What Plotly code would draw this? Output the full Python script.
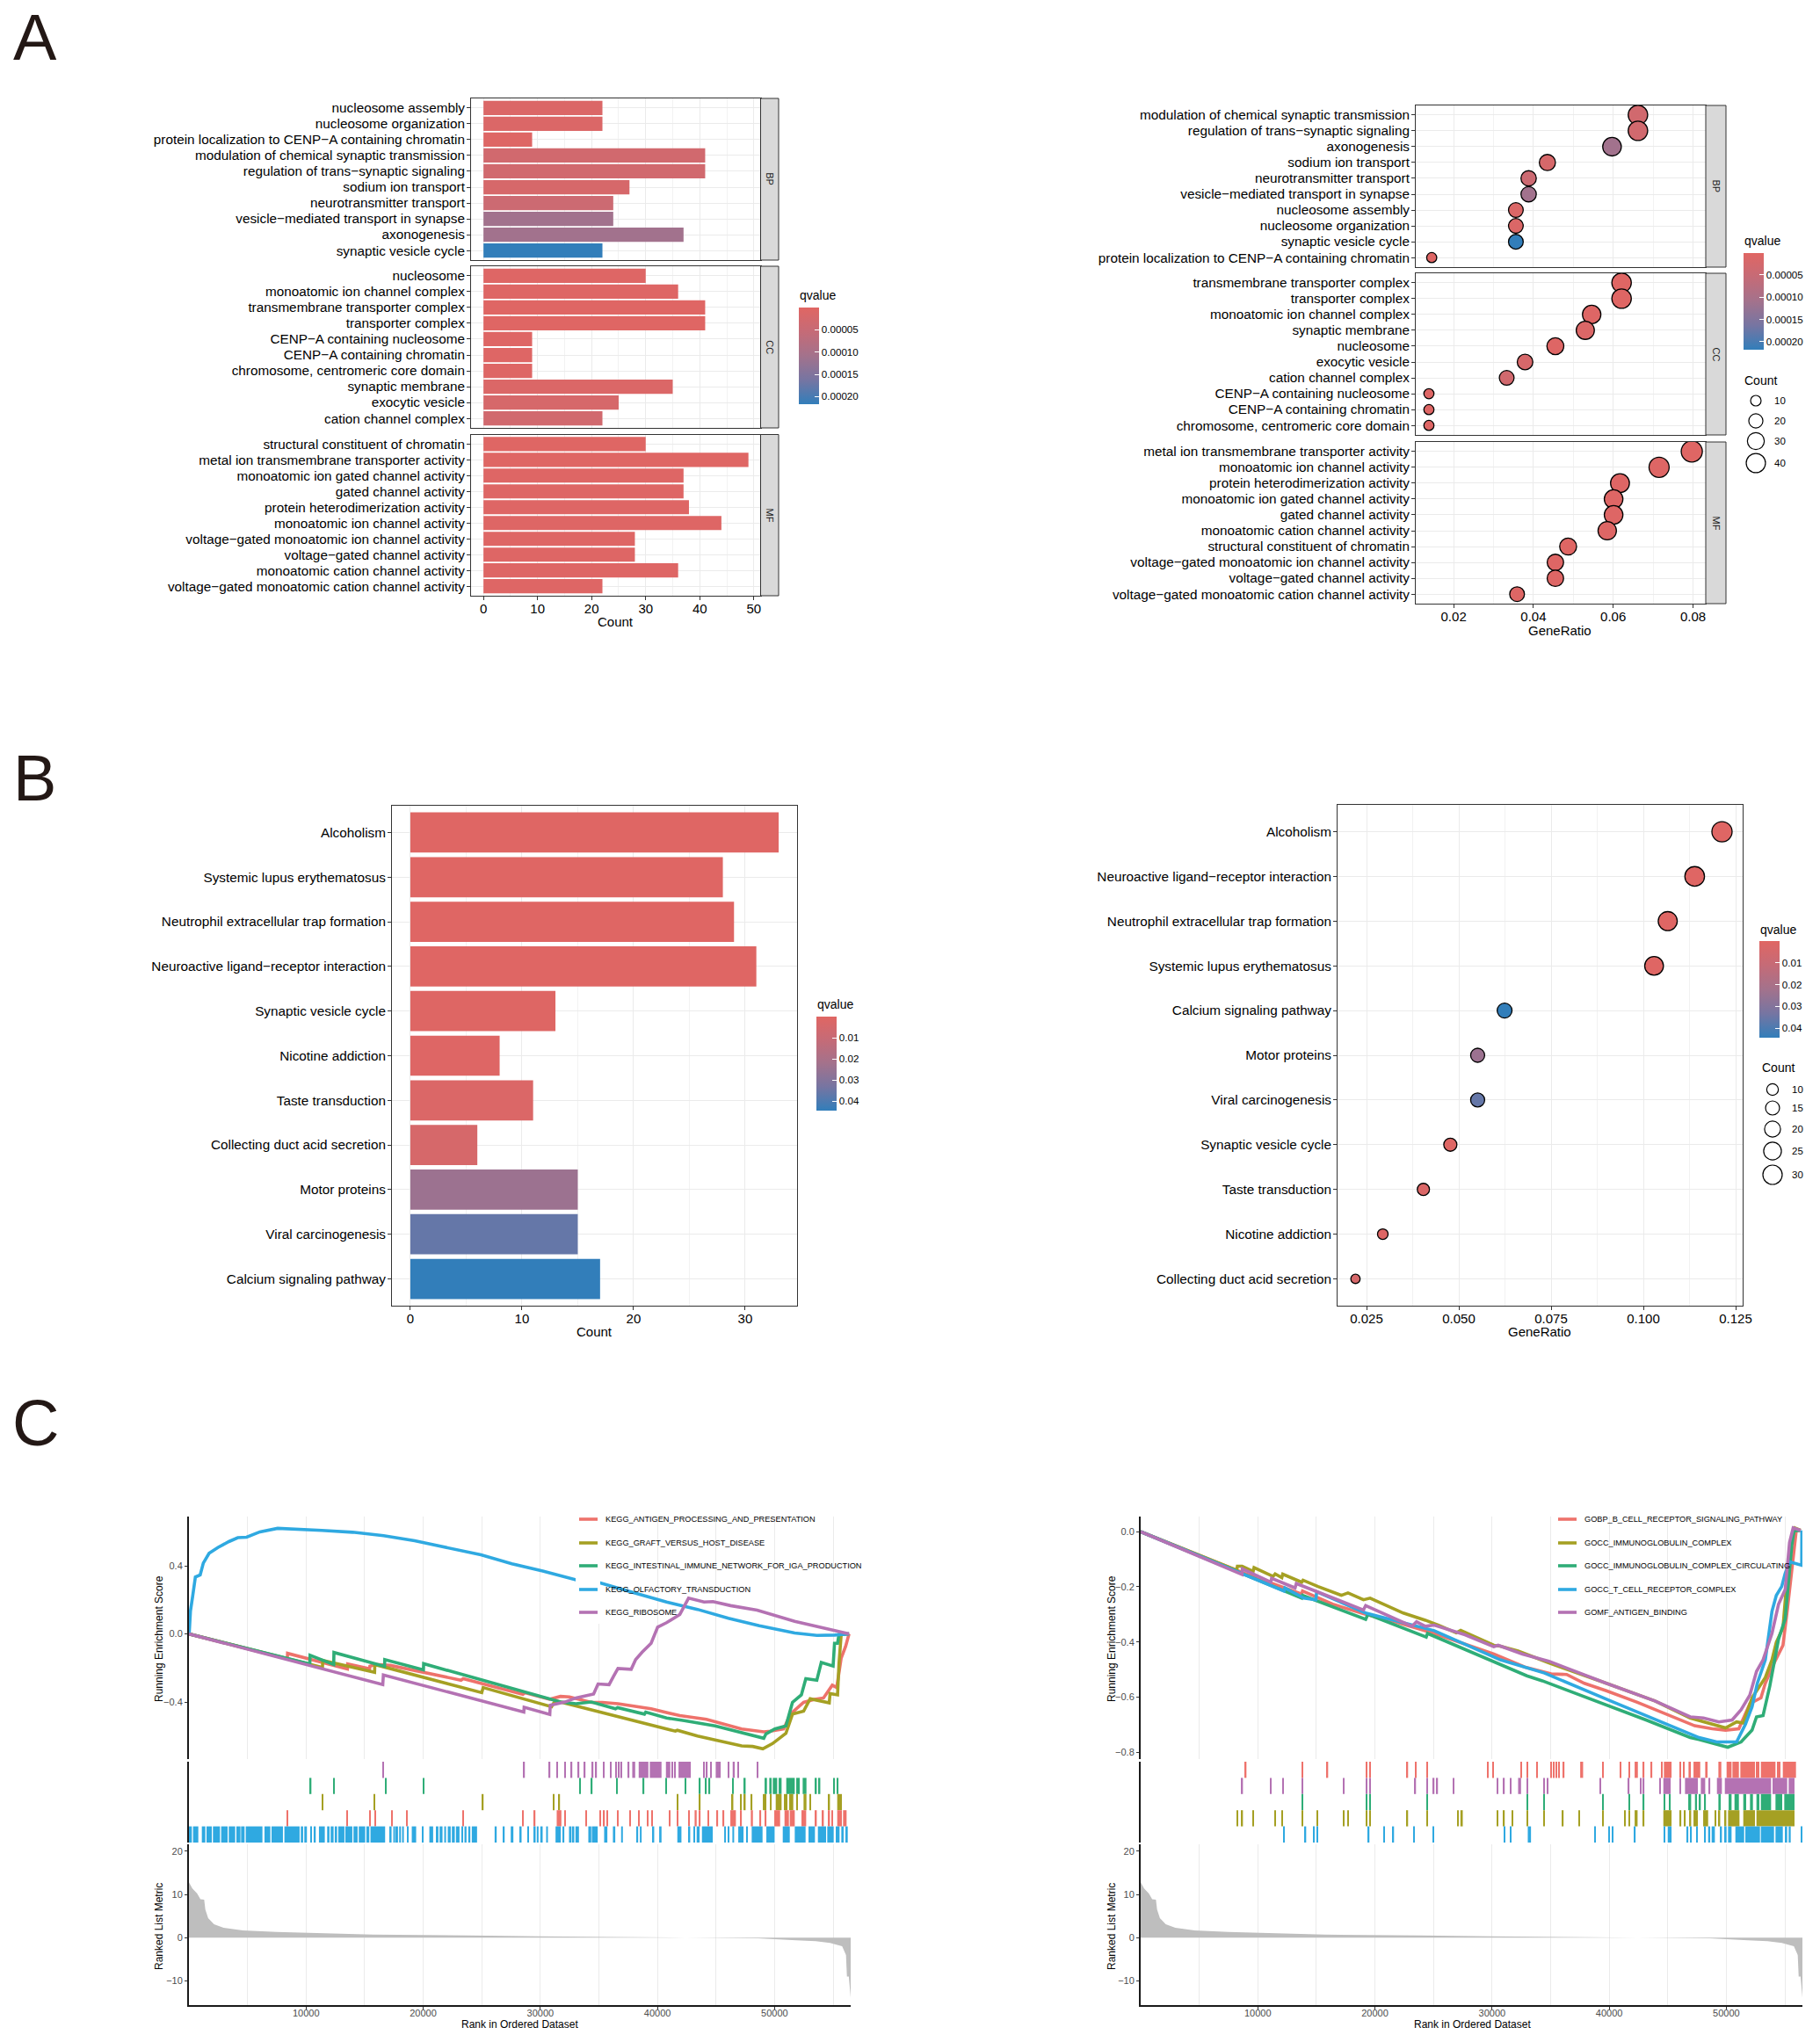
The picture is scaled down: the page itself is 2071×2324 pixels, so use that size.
import math
import plotly.graph_objects as go

W, H = 2071, 2324
FONT = 'Liberation Sans'
RED, BLUE = '#e06663', '#327eba'
GRID, GRID2 = '#ebebeb', '#f2f2f2'

#------------------------------------------------------------------------------#
#     A - GO enrichment, count and q value per term                            #
#------------------------------------------------------------------------------#
bp_terms = ['nucleosome assembly', 'nucleosome organization',
            'protein localization to CENP−A containing chromatin',
            'modulation of chemical synaptic transmission',
            'regulation of trans−synaptic signaling', 'sodium ion transport',
            'neurotransmitter transport', 'vesicle−mediated transport in synapse',
            'axonogenesis', 'synaptic vesicle cycle']
bp_count = [22, 22, 9, 41, 41, 27, 24, 24, 37, 22]
bp_q = [0.00001, 0.00001, 0.000005, 0.00003, 0.00003, 0.00002, 0.00004, 0.00011, 0.00011, 0.000217]

cc_terms = ['nucleosome', 'monoatomic ion channel complex', 'transmembrane transporter complex',
            'transporter complex', 'CENP−A containing nucleosome', 'CENP−A containing chromatin',
            'chromosome, centromeric core domain', 'synaptic membrane', 'exocytic vesicle',
            'cation channel complex']
cc_count = [30, 36, 41, 41, 9, 9, 9, 35, 25, 22]
cc_q = [0.000005, 0.000005, 0.000003, 0.000003, 0.000005, 0.000005, 0.000005, 0.00001, 0.00002, 0.00003]

mf_terms = ['structural constituent of chromatin', 'metal ion transmembrane transporter activity',
            'monoatomic ion gated channel activity', 'gated channel activity',
            'protein heterodimerization activity', 'monoatomic ion channel activity',
            'voltage−gated monoatomic ion channel activity', 'voltage−gated channel activity',
            'monoatomic cation channel activity', 'voltage−gated monoatomic cation channel activity']
mf_count = [30, 49, 37, 37, 38, 44, 28, 28, 36, 22]
mf_q = [0.000003, 0.000003, 0.000005, 0.000005, 0.000005, 0.000005, 0.000005, 0.000005, 0.000005, 0.000005]

bp_dot_terms = ['modulation of chemical synaptic transmission', 'regulation of trans−synaptic signaling',
                'axonogenesis', 'sodium ion transport', 'neurotransmitter transport',
                'vesicle−mediated transport in synapse', 'nucleosome assembly', 'nucleosome organization',
                'synaptic vesicle cycle', 'protein localization to CENP−A containing chromatin']
bp_ratio = [0.0662, 0.0662, 0.0597, 0.0435, 0.0388, 0.0388, 0.0356, 0.0356, 0.0356, 0.0145]

cc_dot_terms = ['transmembrane transporter complex', 'transporter complex', 'monoatomic ion channel complex',
                'synaptic membrane', 'nucleosome', 'exocytic vesicle', 'cation channel complex',
                'CENP−A containing nucleosome', 'CENP−A containing chromatin',
                'chromosome, centromeric core domain']
cc_ratio = [0.0621, 0.0621, 0.0546, 0.0530, 0.0455, 0.0379, 0.0333, 0.0138, 0.0138, 0.0138]

mf_dot_terms = ['metal ion transmembrane transporter activity', 'monoatomic ion channel activity',
                'protein heterodimerization activity', 'monoatomic ion gated channel activity',
                'gated channel activity', 'monoatomic cation channel activity',
                'structural constituent of chromatin', 'voltage−gated monoatomic ion channel activity',
                'voltage−gated channel activity', 'voltage−gated monoatomic cation channel activity']
mf_ratio = [0.0797, 0.0715, 0.0617, 0.0601, 0.0601, 0.0585, 0.0487, 0.0455, 0.0455, 0.0359]

go_q_ticks = [0.00005, 0.0001, 0.00015, 0.0002]
go_q_text = ['0.00005', '0.00010', '0.00015', '0.00020']
go_key_counts = [10, 20, 30, 40]

#------------------------------------------------------------------------------#
#     B - KEGG enrichment                                                      #
#------------------------------------------------------------------------------#
kegg_terms = ['Alcoholism', 'Systemic lupus erythematosus', 'Neutrophil extracellular trap formation',
              'Neuroactive ligand−receptor interaction', 'Synaptic vesicle cycle', 'Nicotine addiction',
              'Taste transduction', 'Collecting duct acid secretion', 'Motor proteins',
              'Viral carcinogenesis', 'Calcium signaling pathway']
kegg_count = [33, 28, 29, 31, 13, 8, 11, 6, 15, 15, 17]
kegg_q = [0.0003, 0.0005, 0.0006, 0.0006, 0.0008, 0.001, 0.002, 0.004, 0.024, 0.036, 0.0444]

kegg_dot_terms = ['Alcoholism', 'Neuroactive ligand−receptor interaction',
                  'Neutrophil extracellular trap formation', 'Systemic lupus erythematosus',
                  'Calcium signaling pathway', 'Motor proteins', 'Viral carcinogenesis',
                  'Synaptic vesicle cycle', 'Taste transduction', 'Nicotine addiction',
                  'Collecting duct acid secretion']
kegg_ratio = [0.1213, 0.1139, 0.1066, 0.1029, 0.0624, 0.0551, 0.0551, 0.0477, 0.0404, 0.0294, 0.0220]

kegg_q_ticks = [0.01, 0.02, 0.03, 0.04]
kegg_q_text = ['0.01', '0.02', '0.03', '0.04']
kegg_key_counts = [10, 15, 20, 25, 30]

#------------------------------------------------------------------------------#
#     C - GSEA running scores, hits (single rank or (from, to)) and metric     #
#------------------------------------------------------------------------------#
gsea_colors = ['#ee726b', '#a5a023', '#2fad77', '#2fa9e1', '#b472b3']
left_names = ['KEGG_ANTIGEN_PROCESSING_AND_PRESENTATION', 'KEGG_GRAFT_VERSUS_HOST_DISEASE',
              'KEGG_INTESTINAL_IMMUNE_NETWORK_FOR_IGA_PRODUCTION', 'KEGG_OLFACTORY_TRANSDUCTION',
              'KEGG_RIBOSOME']
right_names = ['GOBP_B_CELL_RECEPTOR_SIGNALING_PATHWAY', 'GOCC_IMMUNOGLOBULIN_COMPLEX',
               'GOCC_IMMUNOGLOBULIN_COMPLEX_CIRCULATING', 'GOCC_T_CELL_RECEPTOR_COMPLEX',
               'GOMF_ANTIGEN_BINDING']

l_red_rank = [0, 8400, 8420, 13530, 13550, 15430, 15450, 15900, 17190, 23230, 23420, 28510, 28700, 30780,
              31720, 32480, 34360, 35300, 36630, 38140, 39460, 41910, 44180, 47190, 49080, 49650, 50780,
              51350, 52480, 53420, 54180, 54930, 55310, 55690, 56070, 56360]
l_red_es = [0, -0.147, -0.114, -0.206, -0.176, -0.205, -0.190, -0.180, -0.185, -0.272, -0.263, -0.355, -0.346,
            -0.384, -0.367, -0.370, -0.402, -0.402, -0.410, -0.428, -0.440, -0.480, -0.502, -0.558, -0.575,
            -0.571, -0.558, -0.471, -0.402, -0.384, -0.376, -0.301, -0.315, -0.142, -0.073, 0]

l_olive_rank = [0, 11400, 11425, 15850, 15870, 25000, 25120, 30960, 31150, 31340, 41530, 41700, 43420, 47190,
                48140, 49000, 49830, 50970, 51530, 52480, 53040, 54670, 54740, 55380, 55500, 55690, 56360]
l_olive_es = [0, -0.197, -0.156, -0.225, -0.180, -0.345, -0.315, -0.428, -0.405, -0.393, -0.571, -0.566, -0.600,
              -0.658, -0.661, -0.675, -0.644, -0.584, -0.471, -0.454, -0.381, -0.405, -0.350, -0.358, -0.177,
              -0.003, 0]

l_green_rank = [0, 10320, 10340, 12360, 12380, 16700, 16720, 20020, 20040, 31720, 33040, 34360, 36420, 36600,
                38890, 39000, 40780, 42290, 44930, 49080, 49270, 50020, 50970, 51530, 52290, 52670, 53610,
                53990, 55000, 55120, 55380, 55500, 56360]
l_green_es = [0, -0.177, -0.125, -0.180, -0.109, -0.190, -0.151, -0.211, -0.175, -0.400, -0.410, -0.400, -0.440,
              -0.433, -0.471, -0.459, -0.494, -0.509, -0.540, -0.613, -0.587, -0.558, -0.540, -0.402, -0.358,
              -0.263, -0.272, -0.168, -0.189, -0.055, -0.055, -0.003, 0]

l_blue_rank = [20, 130, 320, 550, 960, 1230, 1720, 2470, 3410, 4170, 4920, 6060, 7570, 9830, 11340, 13980,
               16620, 19270, 22280, 24930, 27570, 30210, 33040, 35120, 38140, 40780, 43420, 46060, 48700,
               51720, 53610, 55120, 56360]
l_blue_es = [0, 0.135, 0.222, 0.334, 0.346, 0.416, 0.473, 0.507, 0.542, 0.565, 0.568, 0.599, 0.620, 0.615, 0.608,
             0.597, 0.577, 0.547, 0.504, 0.464, 0.412, 0.369, 0.317, 0.300, 0.239, 0.187, 0.144, 0.092, 0.048,
             0.005, -0.009, -0.007, 0]

l_purple_rank = [0, 16550, 16600, 28590, 28620, 30810, 30850, 32100, 33040, 33800, 34550, 34930, 35870, 36250,
                 36630, 37760, 38140, 38700, 39460, 40020, 40780, 41910, 42660, 43980, 44740, 46250, 48510,
                 51720, 56360]
l_purple_es = [0, -0.298, -0.241, -0.459, -0.431, -0.473, -0.419, -0.400, -0.376, -0.364, -0.353, -0.294, -0.298,
               -0.249, -0.203, -0.208, -0.151, -0.107, -0.055, 0.040, 0.066, 0.114, 0.210, 0.187, 0.190, 0.166,
               0.139, 0.074, 0]

r_red_rank = [0, 8970, 13750, 13820, 16390, 17140, 19210, 21290, 25060, 30150, 32790, 35050, 36370, 37880,
              39760, 42400, 45420, 47300, 48810, 49940, 51070, 52010, 52960, 53330, 54090, 54840, 55210, 55590,
              55860, 55970, 56350]
r_red_es = [0, -0.153, -0.226, -0.215, -0.263, -0.273, -0.300, -0.321, -0.369, -0.444, -0.491, -0.516, -0.518,
            -0.550, -0.577, -0.619, -0.672, -0.704, -0.715, -0.720, -0.715, -0.624, -0.603, -0.550, -0.476,
            -0.412, -0.284, -0.135, -0.029, 0.003, 0.005]

r_olive_rank = [0, 8200, 8260, 8660, 9600, 9680, 11300, 11480, 12050, 12130, 13750, 13860, 15140, 17140, 17700,
                19020, 19590, 22420, 24300, 25430, 26940, 27320, 30150, 30710, 32220, 34860, 39760, 43910,
                46920, 49940, 50880, 51450, 52200, 53330, 53900, 54270, 54840, 55210, 55590, 55860, 56350]
r_olive_es = [0, -0.140, -0.125, -0.125, -0.144, -0.130, -0.162, -0.153, -0.167, -0.154, -0.183, -0.176, -0.199,
              -0.231, -0.222, -0.247, -0.241, -0.295, -0.321, -0.339, -0.367, -0.358, -0.412, -0.415, -0.433,
              -0.476, -0.550, -0.614, -0.676, -0.712, -0.690, -0.694, -0.603, -0.529, -0.465, -0.401, -0.348,
              -0.156, -0.029, 0.014, 0.005]

r_green_rank = [0, 13750, 13820, 19210, 19400, 24380, 24490, 32970, 34290, 39570, 43150, 46920, 47680, 50130,
                51260, 52200, 52580, 53140, 53710, 54460, 55030, 55590, 55780, 56350]
r_green_es = [0, -0.241, -0.231, -0.318, -0.300, -0.382, -0.369, -0.523, -0.541, -0.624, -0.683, -0.747, -0.754,
              -0.782, -0.763, -0.720, -0.672, -0.667, -0.561, -0.390, -0.316, -0.050, 0.003, 0.005]

r_blue_rank = [0, 12240, 12310, 13930, 14950, 15030, 19210, 21660, 23550, 25060, 30710, 32790, 34480, 40130,
               44280, 47680, 49180, 50880, 51630, 52200, 52650, 53330, 53900, 54270, 54730, 55030, 55400, 56440,
               56450]
r_blue_es = [0, -0.215, -0.204, -0.241, -0.247, -0.218, -0.295, -0.321, -0.343, -0.359, -0.465, -0.491, -0.513,
             -0.614, -0.688, -0.747, -0.763, -0.763, -0.699, -0.635, -0.550, -0.465, -0.289, -0.231, -0.199,
             -0.151, -0.109, -0.122, 0.005]

r_purple_rank = [0, 8650, 8680, 11110, 11180, 13180, 13290, 16390, 19020, 19210, 23170, 23550, 24300, 25060,
                 27690, 30150, 30520, 32600, 34860, 39760, 43910, 46920, 48050, 49370, 50500, 51260, 52010,
                 52580, 53140, 53900, 54460, 55030, 55400, 55710, 56350]
r_purple_es = [0, -0.155, -0.135, -0.183, -0.169, -0.204, -0.188, -0.241, -0.284, -0.268, -0.343, -0.327, -0.343,
               -0.339, -0.374, -0.417, -0.412, -0.444, -0.470, -0.550, -0.614, -0.672, -0.676, -0.690, -0.683,
               -0.646, -0.593, -0.507, -0.465, -0.369, -0.263, -0.210, -0.039, 0.014, 0.005]

l_red_hits = [8425, 13525, 15450, 15900, 17325, 18625, 23400, 28525, 29525, (31400, 31800), 32125, 33925, 35100,
              35450, 35725, 36600, 37675, 38400, 39150, 39550, 41050, 41700, 42700, (43175, 43350), 43625, 44350,
              45125, 45650, (46225, 46700), 47150, (47975, 48150), 48800, 49250, (49975, 50475), (50850, 51225),
              (51300, 51725), (52300, 52700), 53550, 54150, 54675, 54925, (55350, 55750), (55850, 56150)]
l_olive_hits = [11425, 15850, 25100, 31150, 31625, 41700, 43625, 46425, 47150, 47475, 48050, (49000, 49300),
                (49600, 49750), (50100, 50600), (50800, 51100), (51250, 51600), 51925, (52475, 52725), 53050,
                54675, (55350, 55750)]
l_green_hits = [10400, 12400, 16825, 20025, 33400, 34400, 36525, 38825, 40750, 42375, 43625, 44150, 44450, 46450,
                47475, (49150, 49350), (49550, 49750), (49850, 50225), (50350, 50600), (51000, 51725),
                (51850, 52150), (52400, 52725), 53550, 53850, 55075, 55400]
l_purple_hits = [16600, 28625, 30800, 31450, 32100, 32675, 33275, 33800, 34475, 34775, 35425, 36025, 36475, 36725,
                 36900, 37550, (37850, 38100), (38400, 39225), (39350, 40350), (40725, 41100), 41250, 41500,
                 (41800, 42850), 43975, 44225, 44550, (44975, 45400), 46050, (46425, 46600), 46900, 48550]
l_blue_hits = [(0, 250), (350, 800), (1100, 1400), (1500, 1950), (2050, 2650), (2750, 3300), (3400, 3950),
               (4050, 4400), (4450, 4750), (4850, 6275), (6450, 6950), (7050, 8025), (8150, 9450), (9550, 9750),
               (9850, 10075), (10400, 10500), (10650, 10825), (11100, 11600), (11800, 12000), (12100, 12350),
               (12450, 12650), (12750, 13275), (13350, 13950), (14050, 14400), (14500, 15050), (15150, 15400),
               (15500, 16750), (17150, 17300), (17450, 17600), (17700, 17850), (17950, 18100), (18200, 18350),
               (18650, 18750), (19025, 19400), (19900, 20025), (20525, 20850), (21150, 21300), (21400, 21650),
               (21800, 21950), (22100, 22350), (22450, 22700), (22800, 23100), (23275, 23400), (23525, 23700),
               (23850, 24025), (24150, 24600), (26100, 26275), (26850, 26950), (27475, 27700), (28275, 28400),
               (28900, 29000), (29475, 29600), (29700, 29850), (30000, 30200), (30500, 30650), (31300, 31750),
               (31900, 32050), (32450, 32650), (32700, 32900), (33000, 33300), (34100, 34350), (34400, 34900),
               (35450, 35725), (36200, 36400), (36900, 37050), (38250, 38350), (38500, 38650), (39600, 39725),
               (40150, 40350), (41700, 42050), (42650, 42800), (43100, 43200), (43350, 43600), (43800, 44725),
               (45700, 45850), (46000, 46100), (46400, 46550), (46900, 47350), (47600, 47725), (48050, 48975),
               (49300, 49850), (49900, 50000), (50700, 51300), (51725, 52650), (52900, 53450), (53700, 54400),
               (54500, 55050), (55225, 55550), (55700, 55900), (56050, 56250)]

r_red_hits = [8975, 13800, 15950, 19275, 19575, 22775, 23475, 24475, 29625, 30100, 32500, 33000, 33825, 35050,
              35275, 35475, 35700, 36125, (37525, 37775), 39450, 40950, 41700, (42175, 42450), 42950, 43625,
              44475, (44675, 45325), 46075, 46375, (46775, 46975), (47200, 47775), (48200, 48400), (49325, 49575),
              (50025, 50450), (50525, 51075), (51200, 52450), (52525, 52825), (52950, 54200), (54325, 54625),
              (54825, 55950)]
r_olive_hits = [8250, 8675, 9625, 11500, 12075, 13800, 15100, 17350, 17700, 19275, 19575, 22775, 24475, 27075,
                (27300, 27500), 30450, 31025, 31750, 33000, 34425, 36050, 37450, 39450, 41325, 41700,
                (42175, 42425), 42950, (44625, 45325), 46100, 46475, (46825, 47000), (47200, 47575),
                (48025, 48450), 49075, 49425, 49950, (50150, 51125), (51450, 52450), (52575, 55825)]
r_green_hits = [13800, 19275, 19575, 24475, 33000, 34425, 39450, 41700, 42950, 44700, (45125, 45250),
                (46750, 47000), (47325, 47500), (47700, 47825), 48200, (49325, 49525), (50200, 50450),
                (50700, 51075), (51450, 51700), (52025, 52275), (52575, 52825), (52950, 53825), (54200, 54775),
                (54950, 55825)]
r_blue_hits = [12225, 14075, 14775, 15075, 19475, 20775, 21575, 23325, 24975, 31050, 31575, (33050, 33325), 38800,
               40000, 40300, 42200, 44725, (45000, 45325), 46700, 47000, 47500, 48200, (48450, 48625),
               (48750, 49025), (49450, 49625), (49875, 50025), (50150, 50450), (50775, 51525), (51625, 52875),
               (52950, 54075), (54200, 54825), (55000, 55200), (55325, 55500), 56450]
r_purple_hits = [8675, 11100, 12150, 13800, 17350, 19275, 19575, 23450, 24475, 25025, 25325, 26725, 30475, 31025,
                 31575, (32225, 32475), 33000, 34425, 34725, 39250, 41675, 42675, 42950, 44325, (44625, 45250),
                 46075, (46475, 47575), (47825, 48200), 48575, (49200, 49625), (49875, 53825), (53950, 55200),
                 (55325, 55825)]

metric_rank = [0, 290, 700, 980, 1300, 1400, 1640, 2140, 2960, 4600, 7480, 11590, 15700, 23920, 30080, 36250,
               42410, 48580, 51860, 53510, 54740, 55770, 56100, 56180, 56340, 56500]
metric_val = [12.8, 11.4, 10.2, 8.9, 8.8, 6.5, 4.5, 3.1, 2.3, 1.7, 1.3, 1.0, 0.7, 0.5, 0.3, 0.15, 0, -0.15, -0.6,
              -0.8, -1.2, -2, -4, -9, -9, -13.8]
gsea_rank_ticks = [10000, 20000, 30000, 40000, 50000]


#------------------------------------------------------------------------------#
#     helpers, everything placed in page pixels                                #
#------------------------------------------------------------------------------#
def xp(p):
    return p / W


def yp(p):
    return 1 - p / H


fig = go.Figure()
shapes, annots = [], []
axis_n = 0


def new_axes(x0, x1, y0, y1, xopts, yopts):
    global axis_n
    axis_n += 1
    n = '' if axis_n == 1 else str(axis_n)
    fig.layout['xaxis' + n] = dict(domain=[xp(x0), xp(x1)], anchor='y' + n, **xopts)
    fig.layout['yaxis' + n] = dict(domain=[yp(y1), yp(y0)], anchor='x' + n, **yopts)
    return 'x' + n, 'y' + n


def txt(x, y, text, size=15, color='black', xanchor='center', angle=0):
    annots.append(dict(x=xp(x), y=yp(y), xref='paper', yref='paper', text=text, showarrow=False,
                       xanchor=xanchor, yanchor='middle', textangle=angle,
                       font=dict(family=FONT, size=size, color=color), borderpad=0))


def strip(x0, x1, y0, y1, text):
    shapes.append(dict(type='rect', xref='paper', yref='paper', x0=xp(x0), x1=xp(x1), y0=yp(y1), y1=yp(y0),
                       fillcolor='#d9d9d9', line=dict(color='#333333', width=1)))
    txt((x0 + x1) / 2, (y0 + y1) / 2, text, size=11, color='#1a1a1a', angle=90)


def color_axis(name, cmax, ticks, labels, x, y0, y1):
    fig.layout[name] = dict(
        cmin=-cmax, cmax=0,
        colorscale=[[0, BLUE], [0.25, '#7675a2'], [0.5, '#a3728c'], [0.75, '#c56b77'], [1, RED]],
        colorbar=dict(x=xp(x), xanchor='left', xpad=0, y=yp(y0), yanchor='top', ypad=0, lenmode='pixels', len=y1 - y0,
                      thicknessmode='pixels', thickness=23, outlinewidth=0, ticks='inside', ticklen=5,
                      tickcolor='white', tickvals=[-t for t in ticks], ticktext=labels,
                      tickfont=dict(family=FONT, size=11.6, color='black')))


def value_axis(rng, major, minor, labels=True, fmt=''):
    return dict(range=rng, dtick=major, tick0=0, showgrid=True, gridcolor=GRID, gridwidth=1.2, zeroline=False,
                minor=dict(dtick=minor, tick0=0, showgrid=True, gridcolor=GRID2, gridwidth=0.8),
                showline=True, mirror=True, linecolor='#333333', linewidth=1,
                ticks='outside' if labels else '', ticklen=4, tickcolor='#333333', tickformat=fmt,
                ticklabelstandoff=-3, showticklabels=labels, tickfont=dict(family=FONT, size=15, color='black'))


def term_axis(terms):
    n = len(terms)
    return dict(type='category', categoryorder='array', categoryarray=terms, range=[n - 0.4, -0.6], showgrid=True,
                tickmode='array', tickvals=terms, ticktext=terms,
                gridcolor=GRID, gridwidth=1.2, showline=True, mirror=True, linecolor='#333333', linewidth=1,
                ticks='outside', ticklen=4, tickcolor='#333333', ticklabelstandoff=-1,
                tickfont=dict(family=FONT, size=15.3, color='black'))


def bar_panel(terms, counts, qs, cax, box, rng, major, minor, labels=True):
    ax, ay = new_axes(*box, value_axis(rng, major, minor, labels), term_axis(terms))
    fig.add_trace(go.Bar(x=counts, y=terms, orientation='h', width=0.9, xaxis=ax, yaxis=ay, showlegend=False,
                         marker=dict(color=[-q for q in qs], coloraxis=cax, line=dict(width=0))))


def dot_panel(terms, ratios, sizes, qs, cax, box, rng, major, minor, labels=True, fmt=''):
    ax, ay = new_axes(*box, value_axis(rng, major, minor, labels, fmt), term_axis(terms))
    fig.add_trace(go.Scatter(x=ratios, y=terms, mode='markers', xaxis=ax, yaxis=ay, showlegend=False,
                             marker=dict(size=sizes, color=[-q for q in qs], coloraxis=cax, opacity=1,
                                         line=dict(color='black', width=1.3))))


def size_key(title, counts, scale, cx, lx, title_y, rows):
    txt(lx - 34, title_y, title, size=14, xanchor='left')
    for c, cy in zip(counts, rows):
        r = scale(c) / 2
        shapes.append(dict(type='circle', xref='paper', yref='paper', x0=xp(cx - r), x1=xp(cx + r), y0=yp(cy + r),
                           y1=yp(cy - r), fillcolor='white', line=dict(color='black', width=1.2)))
        txt(lx, cy, str(c), size=11.5, xanchor='left')


def go_size(c):
    return 2 + 3.15 * math.sqrt(c)


def kegg_size(c):
    return 1.35 + 3.77 * math.sqrt(c)


def spans(hits):
    pairs = [h if isinstance(h, tuple) else (h, h) for h in hits]
    return [(a + b) / 2 for a, b in pairs], [max(b - a, 110) for a, b in pairs]


#------------------------------------------------------------------------------#
#     panel A                                                                  #
#------------------------------------------------------------------------------#
color_axis('coloraxis', 0.000217, go_q_ticks, go_q_text, 908.5, 350, 459.5)
txt(908.5, 336.5, 'qvalue', size=14, xanchor='left')
go_rows = [(bp_terms, bp_count, bp_q, 112, 296, 'BP'), (cc_terms, cc_count, cc_q, 303, 487, 'CC'),
           (mf_terms, mf_count, mf_q, 494.5, 678, 'MF')]
for terms, counts, qs, y0, y1, name in go_rows:
    bar_panel(terms, counts, qs, 'coloraxis', (536, 865.5, y0, y1), [-2.3, 51.25], 10, 5, name == 'MF')
    strip(865.5, 886, y0, y1, name)
txt(700, 708, 'Count')

go_lookup_count = dict(zip(bp_terms + cc_terms + mf_terms, bp_count + cc_count + mf_count))
go_lookup_q = dict(zip(bp_terms + cc_terms + mf_terms, bp_q + cc_q + mf_q))
color_axis('coloraxis2', 0.000217, go_q_ticks, go_q_text, 1984, 287.5, 397)
txt(1984, 274, 'qvalue', size=14, xanchor='left')
dot_rows = [(bp_dot_terms, bp_ratio, 120, 304, 'BP'), (cc_dot_terms, cc_ratio, 311, 495, 'CC'),
            (mf_dot_terms, mf_ratio, 503, 687, 'MF')]
for terms, ratios, y0, y1, name in dot_rows:
    dot_panel(terms, ratios, [go_size(go_lookup_count[t]) for t in terms], [go_lookup_q[t] for t in terms],
              'coloraxis2', (1611, 1941, y0, y1), [0.0105, 0.0832], 0.02, 0.01, name == 'MF')
    strip(1941, 1964, y0, y1, name)
txt(1775, 717, 'GeneRatio')
size_key('Count', go_key_counts, go_size, 1998, 2018, 433, [456, 479, 502, 527])

#------------------------------------------------------------------------------#
#     panel B                                                                  #
#------------------------------------------------------------------------------#
color_axis('coloraxis3', 0.0444, kegg_q_ticks, kegg_q_text, 929, 1157, 1264)
txt(929, 1143, 'qvalue', size=14, xanchor='left')
bar_panel(kegg_terms, kegg_count, kegg_q, 'coloraxis3', (446, 907, 917, 1486), [-1.65, 34.65], 10, 5)
txt(676, 1515, 'Count')

kegg_lookup_count = dict(zip(kegg_terms, kegg_count))
kegg_lookup_q = dict(zip(kegg_terms, kegg_q))
color_axis('coloraxis4', 0.0444, kegg_q_ticks, kegg_q_text, 2002, 1071, 1181)
txt(2002, 1058, 'qvalue', size=14, xanchor='left')
dot_panel(kegg_dot_terms, kegg_ratio, [kegg_size(kegg_lookup_count[t]) for t in kegg_dot_terms],
          [kegg_lookup_q[t] for t in kegg_dot_terms], 'coloraxis4', (1522, 1983, 916, 1486),
          [0.01714, 0.1269], 0.025, 0.0125, fmt='.3f')
txt(1752, 1515, 'GeneRatio')
size_key('Count', kegg_key_counts, kegg_size, 2017, 2038, 1215, [1240, 1261, 1285, 1310, 1337])


#------------------------------------------------------------------------------#
#     panel C                                                                  #
#------------------------------------------------------------------------------#
def gsea_x(show):
    return dict(range=[0, 56500], tickvals=gsea_rank_ticks if show else [], showgrid=True,
                gridcolor=GRID, gridwidth=1.2, zeroline=False,
                minor=dict(dtick=5000, tick0=0, showgrid=True, gridcolor=GRID, gridwidth=1.2),
                showline=bool(show), linecolor='#1a1a1a', linewidth=2, ticks='outside' if show else '', ticklen=3,
                tickcolor='#333333', tickformat='d', ticklabelstandoff=-5,
                tickfont=dict(family=FONT, size=11, color='#4d4d4d'))


def gsea_y(rng, ticks, fmt):
    return dict(range=rng, tickvals=ticks, tickformat=fmt, showgrid=False, zeroline=False, showline=True,
                linecolor='#1a1a1a', linewidth=2, ticks='outside', ticklen=3, tickcolor='#333333',
                tickfont=dict(family=FONT, size=11, color='#4d4d4d'))


def gsea_panel(x0, x1, curves, rows, names, es_range, es_ticks, key_x, title_x, rank_x):
    ax, ay = new_axes(x0, x1, 1726, 2002, gsea_x(False), gsea_y(es_range, es_ticks, '.1f'))
    for (rank, es), c in zip(curves, gsea_colors):
        fig.add_trace(go.Scatter(x=rank, y=es, mode='lines', xaxis=ax, yaxis=ay, showlegend=False,
                                 line=dict(color=c, width=3.6)))

    rug_x = dict(range=[0, 56500], visible=False)
    rug_y = dict(range=[0, 5], showticklabels=False, showgrid=False, zeroline=False, showline=True,
                 linecolor='#1a1a1a', linewidth=2, ticks='')
    ax, ay = new_axes(x0, x1, 2005, 2097, rug_x, rug_y)
    for hits, row, c in rows:
        centers, widths = spans(hits)
        fig.add_trace(go.Bar(x=centers, y=[1] * len(centers), base=[row] * len(centers), width=widths, xaxis=ax,
                             yaxis=ay, showlegend=False, marker=dict(color=c, line=dict(width=0))))

    ax, ay = new_axes(x0, x1, 2099, 2282, gsea_x(True), gsea_y([-15.6, 21.6], [-10, 0, 10, 20], 'd'))
    fig.add_trace(go.Scatter(x=metric_rank, y=metric_val, mode='none', fill='tozeroy', fillcolor='#bebebe',
                             xaxis=ax, yaxis=ay, showlegend=False))

    txt(title_x, 1865, 'Running Enrichment Score', size=12, angle=-90)
    txt(title_x, 2193, 'Ranked List Metric', size=12, angle=-90)
    txt(rank_x, 2304, 'Rank in Ordered Dataset', size=12)

    # white key column of the legend sits on top of the curves
    shapes.append(dict(type='rect', xref='paper', yref='paper', x0=xp(key_x - 4), x1=xp(key_x + 24), y0=yp(1848),
                       y1=yp(1720), fillcolor='white', line=dict(width=0), layer='above'))
    for name, c, y in zip(names, gsea_colors, [1729, 1756, 1782, 1809, 1835]):
        shapes.append(dict(type='line', xref='paper', yref='paper', x0=xp(key_x), x1=xp(key_x + 21), y0=yp(y),
                           y1=yp(y), line=dict(color=c, width=3.6), layer='above'))
        txt(key_x + 29, y, name, size=9.2, xanchor='left')


left_curves = [(l_red_rank, l_red_es), (l_olive_rank, l_olive_es), (l_green_rank, l_green_es),
               (l_blue_rank, l_blue_es), (l_purple_rank, l_purple_es)]
left_rows = [(l_purple_hits, 4, gsea_colors[4]), (l_green_hits, 3, gsea_colors[2]), (l_olive_hits, 2, gsea_colors[1]),
             (l_red_hits, 1, gsea_colors[0]), (l_blue_hits, 0, gsea_colors[3])]
gsea_panel(215, 968, left_curves, left_rows, left_names, [-0.735, 0.689], [-0.4, 0, 0.4], 659, 181, 591)

right_curves = [(r_red_rank, r_red_es), (r_olive_rank, r_olive_es), (r_green_rank, r_green_es),
                (r_blue_rank, r_blue_es), (r_purple_rank, r_purple_es)]
right_rows = [(r_red_hits, 4, gsea_colors[0]), (r_purple_hits, 3, gsea_colors[4]), (r_green_hits, 2, gsea_colors[2]),
              (r_olive_hits, 1, gsea_colors[1]), (r_blue_hits, 0, gsea_colors[3])]
gsea_panel(1298, 2051, right_curves, right_rows, right_names, [-0.825, 0.055], [-0.8, -0.6, -0.4, -0.2, 0], 1773,
           1265, 1675)

#------------------------------------------------------------------------------#
#     panel letters and layout                                                 #
#------------------------------------------------------------------------------#
txt(14, 42, 'A', size=74, color='#231815', xanchor='left')
txt(14, 886, 'B', size=74, color='#231815', xanchor='left')
txt(13, 1620, 'C', size=74, color='#231815', xanchor='left')

fig.update_layout(width=W, height=H, autosize=False, margin=dict(l=0, r=0, t=0, b=0, autoexpand=False),
                  paper_bgcolor='white', plot_bgcolor='white', barmode='overlay', showlegend=False,
                  font=dict(family=FONT), shapes=shapes, annotations=annots)

fig.write_html("out.html", config={'displayModeBar': False}, post_script="document.body.style.margin='0';")
